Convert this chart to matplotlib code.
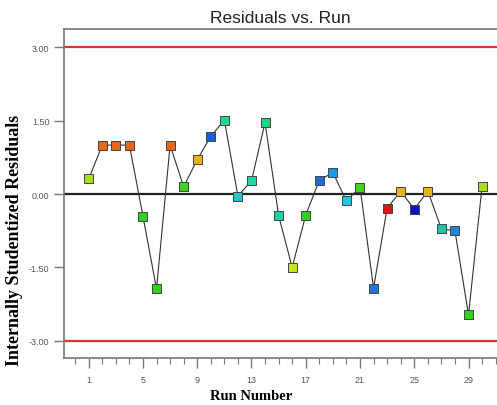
import matplotlib
matplotlib.use("Agg")
import matplotlib.pyplot as plt
from matplotlib.ticker import MultipleLocator, FixedLocator

# residual data
runs = list(range(1, 31))
residuals = [0.31, 1.00, 1.00, 1.00, -0.45, -1.94, 1.00, 0.15, 0.70, 1.18,
             1.51, -0.04, 0.27, 1.46, -0.44, -1.50, -0.43, 0.28, 0.44, -0.14,
             0.14, -1.92, -0.29, 0.06, -0.31, 0.06, -0.71, -0.75, -2.47, 0.16]
colors = ['#a6e01c', '#e8661a', '#e8661a', '#e8661a', '#2fd21f', '#2fd21f',
          '#e8661a', '#3fd51c', '#e6b01e', '#1a5ed6', '#1fd88c', '#1fc8cc',
          '#1fd4a8', '#1fd480', '#1fd0a0', '#c4e41c', '#2fd21f', '#1f6ad6',
          '#1f96e0', '#1fc6dc', '#3fd51c', '#1f78d8', '#e01414', '#e8b41e',
          '#1010cc', '#e8b41e', '#1fc4a8', '#1f86d6', '#2fd21f', '#a6e01c']
limit = 3.0
yticks = [-3.0, -1.5, 0.0, 1.5, 3.0]
xticks = [1, 5, 9, 13, 17, 21, 25, 29]

fig = plt.figure(figsize=(4.97, 4.06), dpi=100)
ax = fig.add_axes([0.1288, 0.1158, 0.8712, 0.810])

ax.axhline(limit, color='#dd3333', lw=1.6, zorder=1)
ax.axhline(-limit, color='#dd3333', lw=1.6, zorder=1)
ax.axhline(0, color='#222222', lw=1.6, zorder=1)

ax.plot(runs, residuals, color='#333333', lw=0.8, zorder=2)
ax.scatter(runs, residuals, marker='s', s=42, c=colors,
           edgecolors='#444444', linewidths=0.7, zorder=3)

ax.set_xlim(-0.82, 31.1)
ax.set_ylim(-3.35, 3.37)

ax.xaxis.set_major_locator(FixedLocator(xticks))
ax.xaxis.set_minor_locator(MultipleLocator(1))
ax.yaxis.set_major_locator(FixedLocator(yticks))
ax.set_yticklabels(['%.2f' % v for v in yticks])

for s in ['left', 'bottom', 'top']:
    ax.spines[s].set_color('#777777')
    ax.spines[s].set_linewidth(1.2)
ax.spines['right'].set_visible(False)

ax.tick_params(axis='both', which='major', direction='out', length=7,
               width=1.0, color='#777777', labelsize=6.5, labelcolor='#555555',
               labelfontfamily='Liberation Sans')
ax.tick_params(axis='x', which='minor', direction='out', length=4,
               width=0.8, color='#777777')
ax.tick_params(axis='x', which='major', pad=5)

ax.set_title('Residuals vs. Run', fontsize=12.5, family='Liberation Sans',
             color='#222222', pad=5)
ax.set_xlabel('Run Number', fontsize=10.5, family='Liberation Serif',
              fontweight='bold')
ax.xaxis.set_label_coords(0.432, -0.095)
ax.set_ylabel('Internally Studentized Residuals', fontsize=13,
              family='Liberation Serif', fontweight='bold')
ax.yaxis.set_label_coords(-0.095, 0.362)

fig.savefig('out.png', dpi=100)
